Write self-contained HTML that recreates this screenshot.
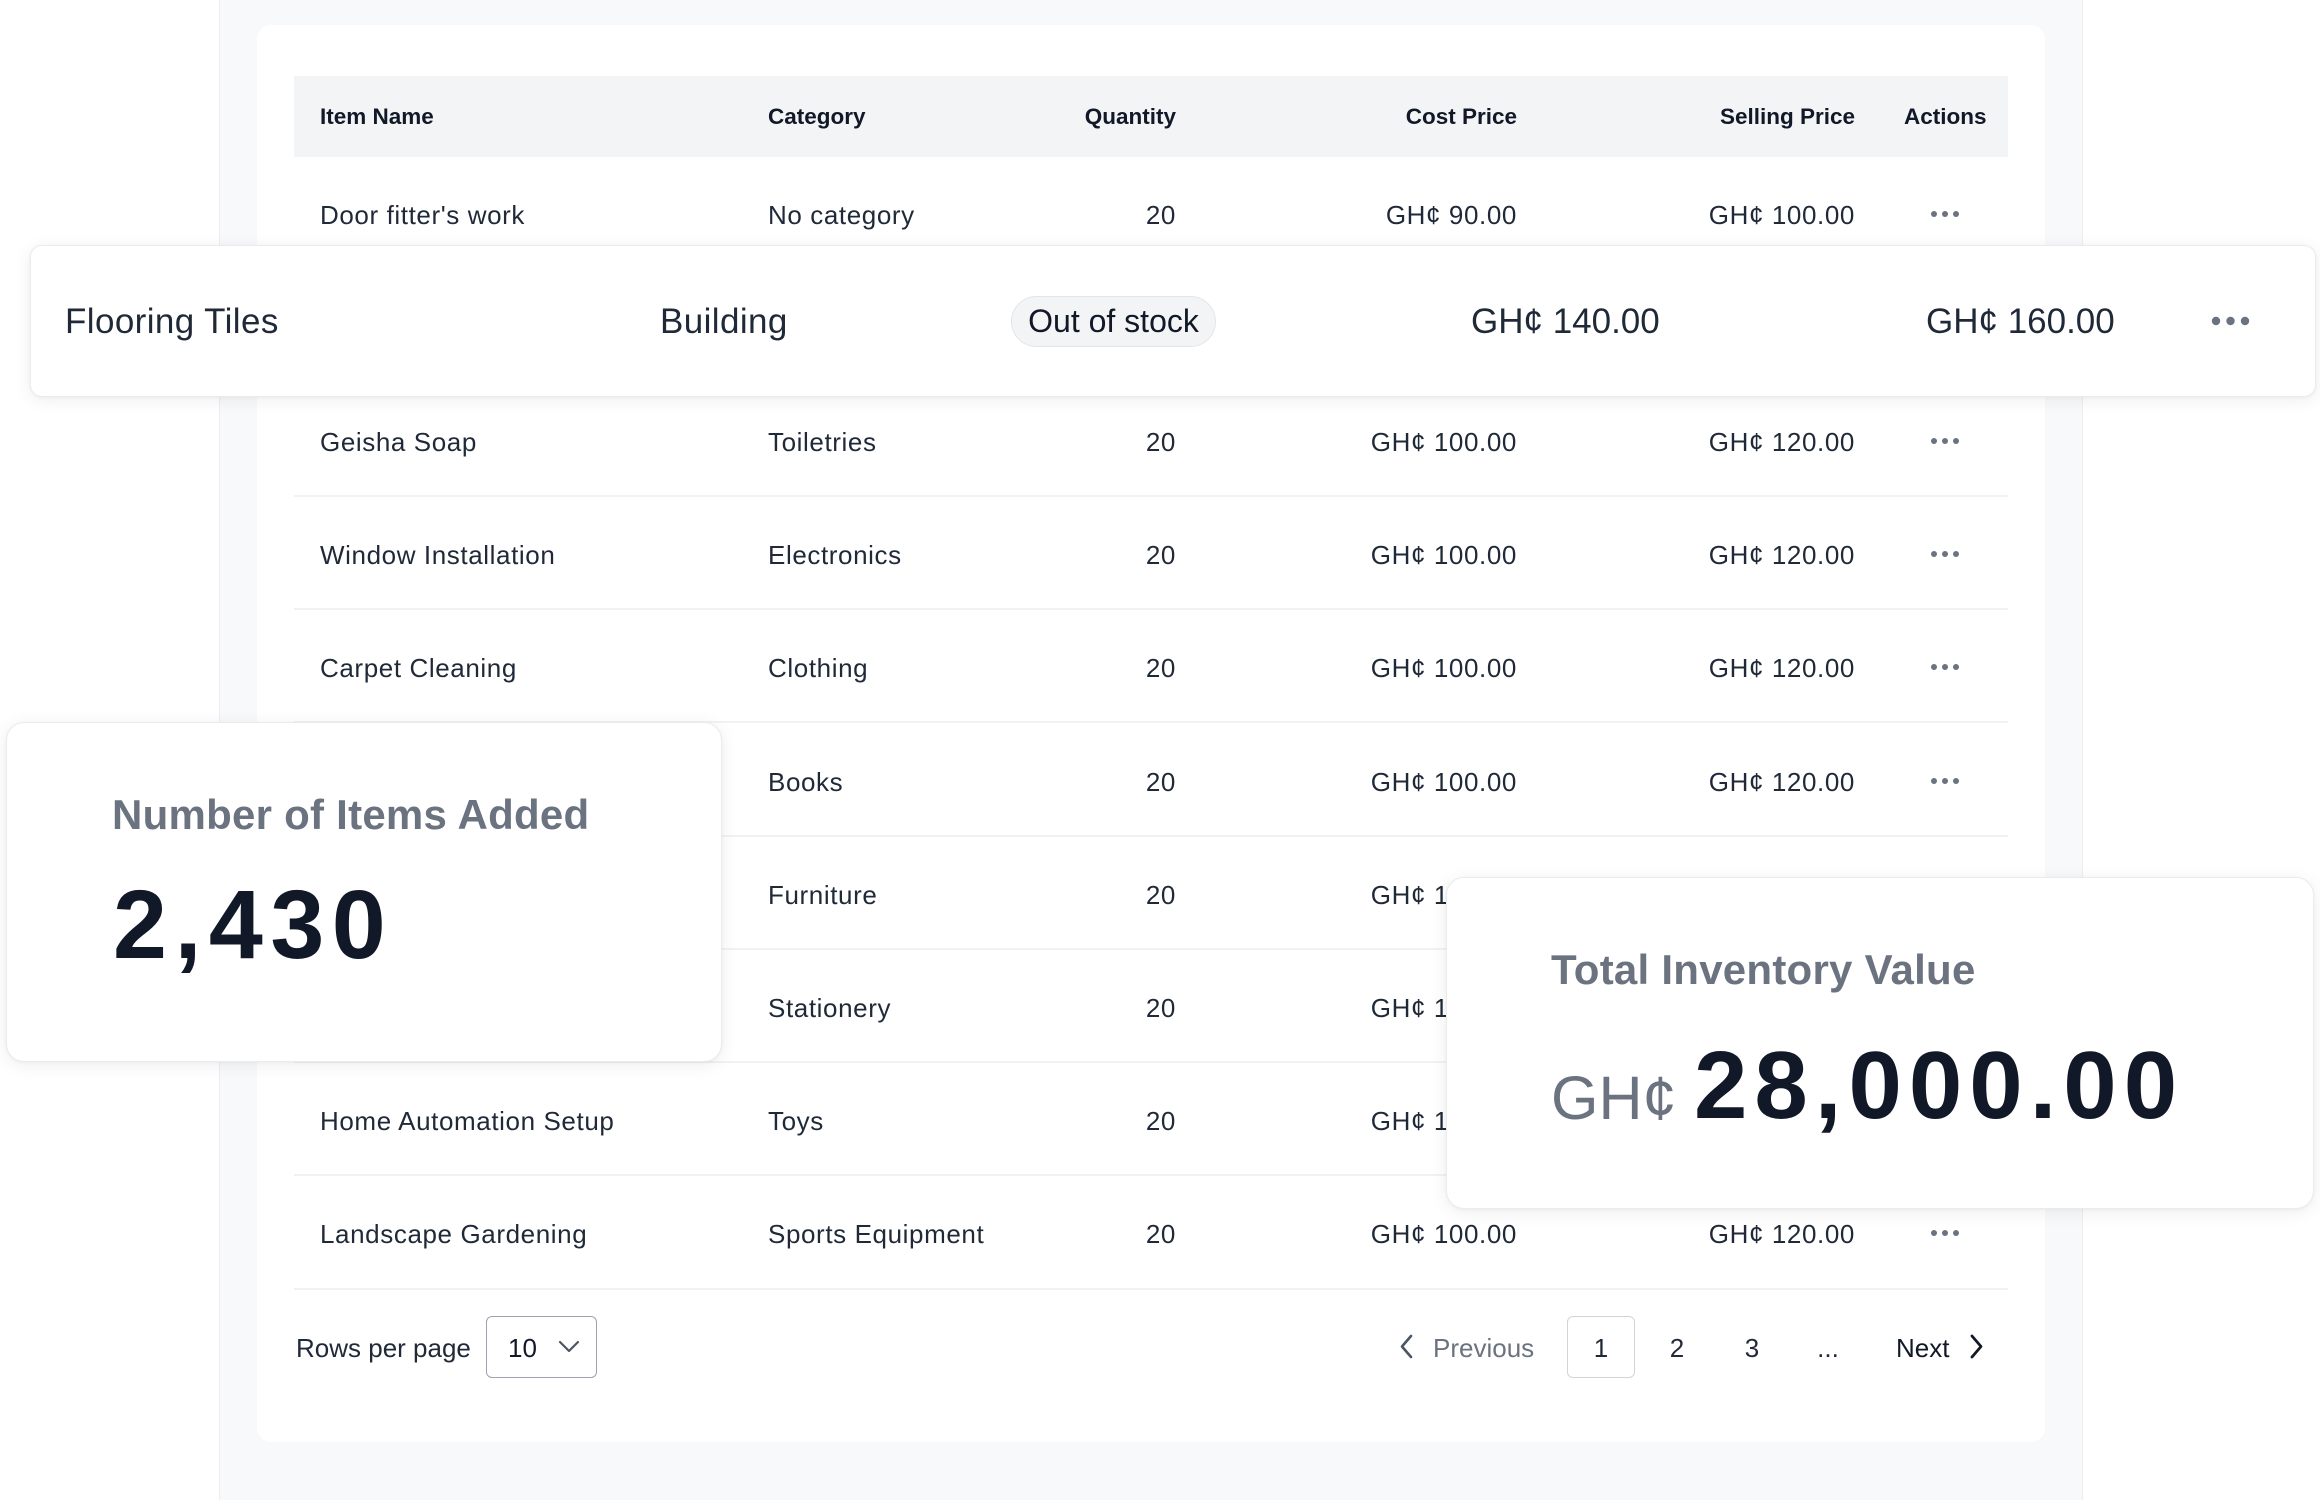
<!DOCTYPE html>
<html>
<head>
<meta charset="utf-8">
<style>
  html, body { margin:0; padding:0; }
  body { width:2320px; height:1467px; position:relative; overflow:hidden; background:#ffffff;
         font-family:"Liberation Sans", Arial, sans-serif; }
  .abs { position:absolute; white-space:nowrap; line-height:1; }
  .outer { position:absolute; left:219px; top:-20px; width:1864px; height:1520px; background:#f8f9fa;
           border-left:1px solid #eceef1; border-right:1px solid #eceef1; box-sizing:border-box; }
  .inner { position:absolute; left:257px; top:25px; width:1788px; height:1417px; background:#ffffff; border-radius:14px; }
  .thead { position:absolute; left:294px; top:76px; width:1714px; height:81px; background:#f3f4f6; }
  .th { font-size:22.5px; font-weight:bold; color:#111827; top:106px; }
  .td { font-size:26px; color:#1f2937; letter-spacing:0.6px; }
  .r { text-align:right; }
  .div { position:absolute; left:294px; width:1714px; height:2px; background:#f1f2f4; }
  .card { position:absolute; background:#ffffff; box-sizing:border-box; border:1px solid #e9ebee;
          box-shadow:0 3px 18px rgba(17,24,39,0.07), 0 1px 3px rgba(17,24,39,0.04); }
  .ft { font-size:35px; color:#1f2937; top:304px; letter-spacing:0.4px; }
</style>
</head>
<body>

<div class="outer"></div>
<div class="inner"></div>
<div class="thead"></div>

<!-- header -->
<div class="abs th" style="left:320px;">Item Name</div>
<div class="abs th" style="left:768px;">Category</div>
<div class="abs th r" style="right:1144px;">Quantity</div>
<div class="abs th r" style="right:803px;">Cost Price</div>
<div class="abs th r" style="right:465px;">Selling Price</div>
<div class="abs th" style="left:1904px;">Actions</div>

<!-- dividers -->
<div class="div" style="top:495px;"></div>
<div class="div" style="top:608px;"></div>
<div class="div" style="top:721px;"></div>
<div class="div" style="top:835px;"></div>
<div class="div" style="top:948px;"></div>
<div class="div" style="top:1061px;"></div>
<div class="div" style="top:1174px;"></div>
<div class="div" style="top:1288px;"></div>

<!-- row 1 -->
<div class="abs td" style="left:320px; top:202px;">Door fitter's work</div>
<div class="abs td" style="left:768px; top:202px;">No category</div>
<div class="abs td r" style="right:1144px; top:202px;">20</div>
<div class="abs td r" style="right:803px; top:202px;">GH¢ 90.00</div>
<div class="abs td r" style="right:465px; top:202px;">GH¢ 100.00</div>

<!-- row 3 -->
<div class="abs td" style="left:320px; top:429px;">Geisha Soap</div>
<div class="abs td" style="left:768px; top:429px;">Toiletries</div>
<div class="abs td r" style="right:1144px; top:429px;">20</div>
<div class="abs td r" style="right:803px; top:429px;">GH¢ 100.00</div>
<div class="abs td r" style="right:465px; top:429px;">GH¢ 120.00</div>

<!-- row 4 -->
<div class="abs td" style="left:320px; top:542px;">Window Installation</div>
<div class="abs td" style="left:768px; top:542px;">Electronics</div>
<div class="abs td r" style="right:1144px; top:542px;">20</div>
<div class="abs td r" style="right:803px; top:542px;">GH¢ 100.00</div>
<div class="abs td r" style="right:465px; top:542px;">GH¢ 120.00</div>

<!-- row 5 -->
<div class="abs td" style="left:320px; top:655px;">Carpet Cleaning</div>
<div class="abs td" style="left:768px; top:655px;">Clothing</div>
<div class="abs td r" style="right:1144px; top:655px;">20</div>
<div class="abs td r" style="right:803px; top:655px;">GH¢ 100.00</div>
<div class="abs td r" style="right:465px; top:655px;">GH¢ 120.00</div>

<!-- row 6 -->
<div class="abs td" style="left:320px; top:769px;">Plumbing Repair</div>
<div class="abs td" style="left:768px; top:769px;">Books</div>
<div class="abs td r" style="right:1144px; top:769px;">20</div>
<div class="abs td r" style="right:803px; top:769px;">GH¢ 100.00</div>
<div class="abs td r" style="right:465px; top:769px;">GH¢ 120.00</div>

<!-- row 7 -->
<div class="abs td" style="left:320px; top:882px;">Painting Service</div>
<div class="abs td" style="left:768px; top:882px;">Furniture</div>
<div class="abs td r" style="right:1144px; top:882px;">20</div>
<div class="abs td r" style="right:803px; top:882px;">GH¢ 100.00</div>
<div class="abs td r" style="right:465px; top:882px;">GH¢ 120.00</div>

<!-- row 8 -->
<div class="abs td" style="left:320px; top:995px;">Roof Inspection</div>
<div class="abs td" style="left:768px; top:995px;">Stationery</div>
<div class="abs td r" style="right:1144px; top:995px;">20</div>
<div class="abs td r" style="right:803px; top:995px;">GH¢ 100.00</div>
<div class="abs td r" style="right:465px; top:995px;">GH¢ 120.00</div>

<!-- row 9 -->
<div class="abs td" style="left:320px; top:1108px;">Home Automation Setup</div>
<div class="abs td" style="left:768px; top:1108px;">Toys</div>
<div class="abs td r" style="right:1144px; top:1108px;">20</div>
<div class="abs td r" style="right:803px; top:1108px;">GH¢ 100.00</div>
<div class="abs td r" style="right:465px; top:1108px;">GH¢ 120.00</div>

<!-- row 10 -->
<div class="abs td" style="left:320px; top:1221px;">Landscape Gardening</div>
<div class="abs td" style="left:768px; top:1221px;">Sports Equipment</div>
<div class="abs td r" style="right:1144px; top:1221px;">20</div>
<div class="abs td r" style="right:803px; top:1221px;">GH¢ 100.00</div>
<div class="abs td r" style="right:465px; top:1221px;">GH¢ 120.00</div>

<!-- row action dots -->
<svg style="position:absolute; left:0; top:0;" width="2320" height="1467">
  <g fill="#6b7280">
    <circle cx="1934" cy="214" r="3"/><circle cx="1945" cy="214" r="3"/><circle cx="1956" cy="214" r="3"/>
    <circle cx="1934" cy="441" r="3"/><circle cx="1945" cy="441" r="3"/><circle cx="1956" cy="441" r="3"/>
    <circle cx="1934" cy="554" r="3"/><circle cx="1945" cy="554" r="3"/><circle cx="1956" cy="554" r="3"/>
    <circle cx="1934" cy="667" r="3"/><circle cx="1945" cy="667" r="3"/><circle cx="1956" cy="667" r="3"/>
    <circle cx="1934" cy="781" r="3"/><circle cx="1945" cy="781" r="3"/><circle cx="1956" cy="781" r="3"/>
    <circle cx="1934" cy="1233" r="3"/><circle cx="1945" cy="1233" r="3"/><circle cx="1956" cy="1233" r="3"/>
  </g>
</svg>

<!-- pagination -->
<div class="abs td" style="left:296px; top:1335px; letter-spacing:0;">Rows per page</div>
<div style="position:absolute; left:486px; top:1316px; width:111px; height:62px; box-sizing:border-box; border:1.5px solid #9ca3af; border-radius:6px; background:#fff;"></div>
<div class="abs" style="left:508px; top:1335px; font-size:26px; color:#111827;">10</div>
<svg style="position:absolute; left:556px; top:1336px;" width="26" height="22">
  <polyline points="4,6 13,15 22,6" fill="none" stroke="#4b5563" stroke-width="2.2" stroke-linecap="round" stroke-linejoin="round"/>
</svg>

<svg style="position:absolute; left:1396px; top:1332px;" width="22" height="30">
  <polyline points="15,4 6,14.5 15,25" fill="none" stroke="#4b5563" stroke-width="2.6" stroke-linecap="round" stroke-linejoin="round"/>
</svg>
<div class="abs" style="left:1433px; top:1335px; font-size:26px; color:#6b7280;">Previous</div>
<div style="position:absolute; left:1567px; top:1316px; width:68px; height:62px; box-sizing:border-box; border:1.5px solid #d1d5db; border-radius:6px; background:#fff;"></div>
<div class="abs" style="left:1567px; width:68px; text-align:center; top:1335px; font-size:26px; color:#1f2937;">1</div>
<div class="abs" style="left:1643px; width:68px; text-align:center; top:1335px; font-size:26px; color:#1f2937;">2</div>
<div class="abs" style="left:1718px; width:68px; text-align:center; top:1335px; font-size:26px; color:#1f2937;">3</div>
<div class="abs" style="left:1794px; width:68px; text-align:center; top:1335px; font-size:26px; color:#1f2937;">...</div>
<div class="abs" style="left:1896px; top:1335px; font-size:26px; color:#111827;">Next</div>
<svg style="position:absolute; left:1966px; top:1332px;" width="22" height="30">
  <polyline points="6,4 15,14.5 6,25" fill="none" stroke="#111827" stroke-width="2.8" stroke-linecap="round" stroke-linejoin="round"/>
</svg>

<!-- floating row -->
<div class="card" style="left:30px; top:245px; width:2286px; height:152px; border-radius:12px;"></div>
<div class="abs ft" style="left:65px;">Flooring Tiles</div>
<div class="abs ft" style="left:660px;">Building</div>
<div style="position:absolute; left:1011px; top:296px; width:205px; height:51px; box-sizing:border-box; background:#f3f4f6; border:1.5px solid #e3e5e9; border-radius:26px;"></div>
<div class="abs" style="left:1011px; width:205px; text-align:center; top:305px; font-size:32px; color:#111827;">Out of stock</div>
<div class="abs ft" style="left:1471px; letter-spacing:0;">GH¢ 140.00</div>
<div class="abs ft" style="left:1926px; letter-spacing:0;">GH¢ 160.00</div>
<svg style="position:absolute; left:2200px; top:305px;" width="60" height="32">
  <g fill="#6b7280"><circle cx="16" cy="16" r="4.2"/><circle cx="30.5" cy="16" r="4.2"/><circle cx="45" cy="16" r="4.2"/></g>
</svg>

<!-- stats card 1 -->
<div class="card" style="left:6px; top:722px; width:716px; height:340px; border-radius:18px;"></div>
<div class="abs" style="left:112px; top:794px; font-size:42px; font-weight:bold; color:#6b7280; letter-spacing:0.25px;">Number of Items Added</div>
<div class="abs" style="left:113px; top:876px; font-size:97px; font-weight:bold; color:#111827; letter-spacing:7.5px;">2,430</div>

<!-- stats card 2 -->
<div class="card" style="left:1446px; top:877px; width:868px; height:332px; border-radius:18px;"></div>
<div class="abs" style="left:1551px; top:949px; font-size:42px; font-weight:bold; color:#6b7280; letter-spacing:0.25px;">Total Inventory Value</div>
<div class="abs" style="left:1551px; top:1068px; font-size:61px; color:#6b7280;">GH¢</div>
<div class="abs" style="left:1694px; top:1038px; font-size:96px; font-weight:bold; color:#111827; letter-spacing:7px;">28,000.00</div>

</body>
</html>
